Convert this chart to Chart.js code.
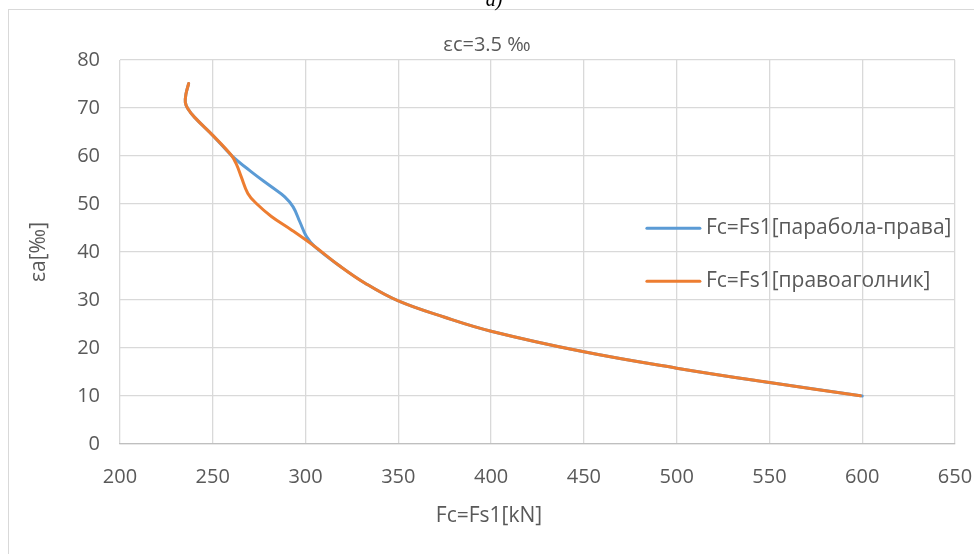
<!DOCTYPE html>
<html>
<head>
<meta charset="utf-8">
<script src="https://cdn.jsdelivr.net/npm/chart.js@4.4.1/dist/chart.umd.min.js"></script>
<style>
  body { margin: 0; background: #fff; }
  #wrap { width: 974px; height: 554px; }
</style>
</head>
<body>
<div id="wrap"><canvas id="myChart1"></canvas></div>
<script>

let xParabola = [237, 235.6, 235.2, 236.5, 240.1, 250, 259.9, 270.8, 281.6, 288.8, 293.3, 296.9, 300.5, 305, 317.7, 332.1, 350, 375, 400, 450, 500, 550, 600];
let yParabola = [75.1, 73.0, 71.2, 69.9, 68.1, 64.3, 60.2, 56.7, 53.6, 51.5, 49.4, 46.3, 43.2, 41.1, 37.3, 33.5, 29.8, 26.4, 23.5, 19.2, 15.8, 12.8, 10.0];

let xPravo = [237, 235.6, 235.2, 236.5, 240.1, 250, 259.9, 262.6, 265.3, 268.9, 273.5, 281.6, 292.4, 305.1, 317.7, 332.1, 350, 375, 400, 450, 500, 550, 599];
let yPravo = [75.1, 73.0, 71.2, 69.9, 68.1, 64.3, 60.2, 58.4, 55.7, 52.2, 50.1, 47.4, 44.6, 41.1, 37.3, 33.5, 29.8, 26.4, 23.5, 19.2, 15.8, 12.8, 10.05];

let labels1 = ['Fc=Fs1[парабола-права]', 'Fc=Fs1[правоаголник]'];
let xTicks = [200, 250, 300, 350, 400, 450, 500, 550, 600, 650];
let yTicks = [0, 10, 20, 30, 40, 50, 60, 70, 80];

let chartTitle = 'εc=3.5 ‰';
let xTitle = 'Fc=Fs1[kN]';
let yTitle = 'εa[‰]';

function toPoints(xs, ys) {
  return xs.map((x, i) => ({ x: x, y: ys[i] }));
}

Chart.defaults.font.family = "'Open Sans', sans-serif";
Chart.defaults.color = '#595959';

// frame, captions and the legend sitting inside the plot
let decor = {
  id: 'decor',
  beforeDraw(chart) {
    let c = chart.ctx;
    c.save();
    c.strokeStyle = '#d9d9d9';
    c.lineWidth = 1;
    c.strokeRect(8.5, 9.5, chart.width, chart.height);
    c.fillStyle = '#000';
    c.font = "italic 20px 'Liberation Serif'";
    c.textAlign = 'center';
    c.textBaseline = 'alphabetic';
    c.fillText('a)', 494, 6);

    c.fillStyle = '#595959';
    c.textBaseline = 'middle';
    c.font = "20px 'Open Sans'";
    c.fillText(chartTitle, 487, 45);
    c.font = "21px 'Open Sans'";
    c.fillText(xTitle, 489, 516);
    c.restore();
  },
  afterDraw(chart) {
    let c = chart.ctx;
    let area = chart.chartArea;
    let x0 = area.left + (area.right - area.left) * 0.631;
    let y0 = area.top + (area.bottom - area.top) * 0.438;
    c.save();
    c.font = "21px 'Open Sans'";
    c.textBaseline = 'middle';
    c.textAlign = 'left';
    chart.data.datasets.forEach((ds, i) => {
      let y = y0 + i * 53;
      c.strokeStyle = ds.borderColor;
      c.lineWidth = 3;
      c.lineCap = 'round';
      c.beginPath();
      c.moveTo(x0, y);
      c.lineTo(x0 + 53, y);
      c.stroke();
      c.fillStyle = '#595959';
      c.fillText(ds.label, x0 + 59, y);
    });
    c.restore();
  }
};

let chart1 = new Chart(document.getElementById('myChart1').getContext('2d'), {
  type: 'scatter',
  data: {
    datasets: [
      {
        label: labels1[0],
        data: toPoints(xParabola, yParabola),
        borderColor: '#5b9bd5',
        backgroundColor: '#5b9bd5',
        order: 1
      },
      {
        label: labels1[1],
        data: toPoints(xPravo, yPravo),
        borderColor: '#ed7d31',
        backgroundColor: '#ed7d31',
        order: 0
      }
    ]
  },
  options: {
    responsive: true,
    maintainAspectRatio: false,
    animation: false,
    layout: { padding: { left: 0, right: 0, top: 60, bottom: 0 } },
    elements: {
      point: { radius: 0, hoverRadius: 0 },
      line: { borderWidth: 3, tension: 0.4, borderCapStyle: 'round', borderJoinStyle: 'round' }
    },
    datasets: { scatter: { showLine: true } },
    plugins: {
      legend: { display: false },
      tooltip: { enabled: false },
      title: { display: false }
    },
    scales: {
      x: {
        type: 'linear',
        min: xTicks[0],
        max: xTicks[xTicks.length - 1],
        afterBuildTicks: s => { s.ticks = xTicks.map(v => ({ value: v })); },
        afterFit: s => { s.height = 110; s.paddingLeft = 0; s.paddingRight = 19; },
        ticks: { font: { size: 20 }, padding: 21, color: '#595959' },
        grid: { color: '#d9d9d9', lineWidth: 1.3, drawTicks: false },
        border: { color: '#bfbfbf', width: 1.3 }
      },
      y: {
        type: 'linear',
        min: yTicks[0],
        max: yTicks[yTicks.length - 1],
        afterBuildTicks: s => { s.ticks = yTicks.map(v => ({ value: v })); },
        afterFit: s => { s.width = 120; s.paddingTop = 0; s.paddingBottom = 0; },
        ticks: { font: { size: 20 }, padding: 20, color: '#595959' },
        grid: { color: '#d9d9d9', lineWidth: 1.3, drawTicks: false },
        border: { display: false },
        title: { display: true, text: yTitle, font: { size: 21 }, color: '#595959', padding: { top: 26, bottom: 0 } }
      }
    }
  },
  plugins: [decor]
});

</script>
</body>
</html>
